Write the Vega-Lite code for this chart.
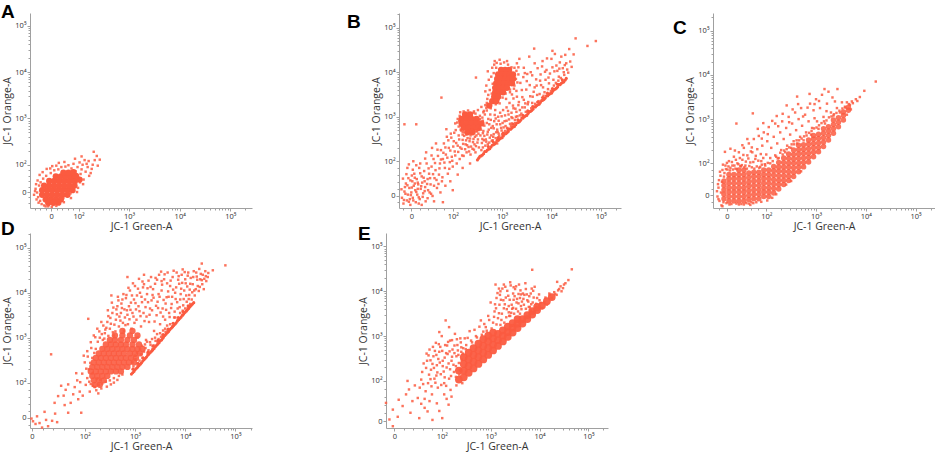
{
  "$schema": "https://vega.github.io/schema/vega-lite/v6.json",
  "background": "white",
  "padding": {"left": 1, "top": 3, "right": 0, "bottom": 0},
  "config": {
    "view": {"stroke": null},
    "title": {"anchor": "start", "frame": "group", "fontSize": 19, "font": "Liberation Sans", "fontWeight": "bold", "color": "#000000"},
    "axis": {"grid": false, "domainColor": "#a0a0a0", "tickColor": "#a0a0a0", "labelFont": "Open Sans", "labelFontSize": 7.5, "labelColor": "#333333", "titleFont": "Open Sans", "titleFontSize": 10.5, "titleFontWeight": "normal", "titleColor": "#333333", "labelPadding": 1, "titlePadding": 2, "labelOverlap": false, "labelFlush": false}
  },
  "datasets": {
    "A_core": [
      {"green":1.35,"orange":1.25},{"green":1.45,"orange":1.25},{"green":1.55,"orange":1.25},{"green":1.65,"orange":1.25},
      {"green":1.40,"orange":1.18},{"green":1.50,"orange":1.18},{"green":1.60,"orange":1.18},
      {"green":1.28,"orange":1.35},{"green":1.38,"orange":1.35},{"green":1.48,"orange":1.35},{"green":1.58,"orange":1.35},{"green":1.68,"orange":1.35},{"green":1.78,"orange":1.35},
      {"green":1.28,"orange":1.45},{"green":1.38,"orange":1.45},{"green":1.48,"orange":1.45},{"green":1.58,"orange":1.45},{"green":1.68,"orange":1.45},{"green":1.78,"orange":1.45},{"green":1.88,"orange":1.45},
      {"green":1.32,"orange":1.55},{"green":1.42,"orange":1.55},{"green":1.52,"orange":1.55},{"green":1.62,"orange":1.55},{"green":1.72,"orange":1.55},{"green":1.82,"orange":1.55},{"green":1.92,"orange":1.55},
      {"green":1.42,"orange":1.65},{"green":1.52,"orange":1.65},{"green":1.62,"orange":1.65},{"green":1.72,"orange":1.65},{"green":1.82,"orange":1.65},{"green":1.92,"orange":1.65},{"green":2.02,"orange":1.68},
      {"green":1.55,"orange":1.75},{"green":1.65,"orange":1.75},{"green":1.75,"orange":1.75},{"green":1.85,"orange":1.75},{"green":1.95,"orange":1.76},
      {"green":1.70,"orange":1.83},{"green":1.80,"orange":1.83},{"green":1.90,"orange":1.84}
    ],
    "A_dots": [
      {"green":1.18,"orange":1.40},{"green":1.20,"orange":1.30},{"green":1.22,"orange":1.55},{"green":1.24,"orange":1.22},{"green":1.25,"orange":1.62},{"green":1.27,"orange":1.15},{"green":1.30,"orange":1.70},{"green":1.32,"orange":1.12},{"green":1.36,"orange":1.76},{"green":1.40,"orange":1.10},
      {"green":1.42,"orange":1.16},{"green":1.45,"orange":1.82},{"green":1.50,"orange":1.13},{"green":1.52,"orange":1.88},{"green":1.58,"orange":1.17},{"green":1.60,"orange":1.90},{"green":1.63,"orange":1.22},{"green":1.66,"orange":1.95},{"green":1.70,"orange":1.28},{"green":1.74,"orange":1.96},
      {"green":1.76,"orange":1.33},{"green":1.80,"orange":1.99},{"green":1.84,"orange":1.38},{"green":1.86,"orange":1.92},{"green":1.88,"orange":1.45},{"green":1.90,"orange":2.02},{"green":1.92,"orange":1.55},{"green":1.94,"orange":1.86},{"green":1.96,"orange":1.62},{"green":1.98,"orange":1.95},
      {"green":2.00,"orange":1.72},{"green":2.02,"orange":2.05},{"green":2.04,"orange":1.80},{"green":2.06,"orange":1.90},{"green":2.08,"orange":2.00},{"green":2.10,"orange":1.68},{"green":2.12,"orange":2.10},{"green":2.14,"orange":1.85},{"green":2.18,"orange":1.95},{"green":2.20,"orange":2.08},
      {"green":2.24,"orange":1.82},{"green":2.28,"orange":2.00},{"green":2.32,"orange":2.10},{"green":2.38,"orange":1.98},{"green":2.30,"orange":2.28},{"green":1.15,"orange":1.48},{"green":1.16,"orange":1.58},{"green":1.21,"orange":1.18},{"green":1.35,"orange":1.10},{"green":1.47,"orange":1.09},
      {"green":1.99,"orange":1.50},{"green":2.03,"orange":1.62},{"green":1.89,"orange":1.73},{"green":1.12,"orange":1.35},{"green":1.44,"orange":1.92},{"green":1.56,"orange":1.98},
      {"green":1.19,"orange":1.66},{"green":1.23,"orange":1.78},{"green":1.29,"orange":1.84},{"green":1.37,"orange":1.91},{"green":1.48,"orange":1.97},{"green":1.61,"orange":2.04},{"green":1.72,"orange":2.06},{"green":1.93,"orange":2.13},{"green":2.06,"orange":2.18},{"green":2.16,"orange":2.02},
      {"green":2.26,"orange":1.91},{"green":2.21,"orange":1.76},{"green":2.09,"orange":1.58},{"green":1.97,"orange":1.41},{"green":1.85,"orange":1.28},{"green":1.71,"orange":1.19},{"green":1.56,"orange":1.11},{"green":1.41,"orange":1.13},{"green":1.17,"orange":1.25},{"green":1.14,"orange":1.43},
      {"green":2.42,"orange":2.11},{"green":2.36,"orange":2.19}
    ],
    "B_core": [
      {"green":2.98,"orange":4.05},{"green":3.06,"orange":4.05},{"green":3.14,"orange":4.05},
      {"green":2.92,"orange":3.95},{"green":3.00,"orange":3.95},{"green":3.08,"orange":3.95},{"green":3.16,"orange":3.95},{"green":3.22,"orange":3.95},
      {"green":2.90,"orange":3.85},{"green":2.98,"orange":3.85},{"green":3.06,"orange":3.85},{"green":3.14,"orange":3.85},{"green":3.22,"orange":3.85},
      {"green":2.88,"orange":3.75},{"green":2.96,"orange":3.75},{"green":3.04,"orange":3.75},{"green":3.12,"orange":3.75},{"green":3.20,"orange":3.75},
      {"green":2.86,"orange":3.65},{"green":2.94,"orange":3.65},{"green":3.02,"orange":3.65},{"green":3.10,"orange":3.65},
      {"green":2.86,"orange":3.55},{"green":2.94,"orange":3.55},{"green":3.02,"orange":3.55},
      {"green":2.84,"orange":3.45},{"green":2.92,"orange":3.45},
      {"green":2.80,"orange":3.35},{"green":2.88,"orange":3.35},
      {"green":2.74,"orange":3.25},
      {"green":2.25,"orange":3.05},{"green":2.35,"orange":3.05},
      {"green":2.18,"orange":2.95},{"green":2.28,"orange":2.95},{"green":2.38,"orange":2.95},{"green":2.48,"orange":2.95},
      {"green":2.18,"orange":2.85},{"green":2.28,"orange":2.85},{"green":2.38,"orange":2.85},{"green":2.48,"orange":2.85},{"green":2.58,"orange":2.85},
      {"green":2.22,"orange":2.75},{"green":2.32,"orange":2.75},{"green":2.42,"orange":2.75},{"green":2.52,"orange":2.75},
      {"green":2.30,"orange":2.65},{"green":2.40,"orange":2.65}
    ],
    "B_band": [
      {"green":2.50,"orange":2.03},{"green":2.55,"orange":2.11},{"green":2.60,"orange":2.14},{"green":2.65,"orange":2.22},{"green":2.70,"orange":2.25},{"green":2.75,"orange":2.28},{"green":2.80,"orange":2.36},{"green":2.85,"orange":2.39},{"green":2.90,"orange":2.47},{"green":2.95,"orange":2.50},
      {"green":3.00,"orange":2.53},{"green":3.05,"orange":2.61},{"green":3.10,"orange":2.64},{"green":3.15,"orange":2.72},{"green":3.20,"orange":2.75},{"green":3.25,"orange":2.78},{"green":3.30,"orange":2.86},{"green":3.35,"orange":2.89},{"green":3.40,"orange":2.97},{"green":3.45,"orange":3.00},
      {"green":3.50,"orange":3.03},{"green":3.55,"orange":3.11},{"green":3.60,"orange":3.14},{"green":3.65,"orange":3.22},{"green":3.70,"orange":3.25},{"green":3.75,"orange":3.28},{"green":3.80,"orange":3.36},{"green":3.85,"orange":3.39},{"green":3.90,"orange":3.47},{"green":3.95,"orange":3.50},
      {"green":4.00,"orange":3.53},{"green":4.05,"orange":3.61},{"green":4.10,"orange":3.64},{"green":4.15,"orange":3.72},{"green":4.20,"orange":3.75},{"green":4.25,"orange":3.78},{"green":4.30,"orange":3.86},
      {"green":2.525,"orange":2.07},{"green":2.575,"orange":2.12},{"green":2.625,"orange":2.17},{"green":2.675,"orange":2.22},{"green":2.725,"orange":2.27},{"green":2.775,"orange":2.32},{"green":2.825,"orange":2.37},{"green":2.875,"orange":2.42},{"green":2.925,"orange":2.47},{"green":2.975,"orange":2.52},
      {"green":3.025,"orange":2.57},{"green":3.075,"orange":2.62},{"green":3.125,"orange":2.67},{"green":3.175,"orange":2.72},{"green":3.225,"orange":2.77},{"green":3.275,"orange":2.82},{"green":3.325,"orange":2.87},{"green":3.375,"orange":2.92},{"green":3.425,"orange":2.97},{"green":3.475,"orange":3.02},
      {"green":3.525,"orange":3.07},{"green":3.575,"orange":3.12},{"green":3.625,"orange":3.17},{"green":3.675,"orange":3.22},{"green":3.725,"orange":3.27},{"green":3.775,"orange":3.32},{"green":3.825,"orange":3.37},{"green":3.875,"orange":3.42},{"green":3.925,"orange":3.47},{"green":3.975,"orange":3.52},
      {"green":4.025,"orange":3.57},{"green":4.075,"orange":3.62},{"green":4.125,"orange":3.67},{"green":4.175,"orange":3.72},{"green":4.225,"orange":3.77},{"green":4.275,"orange":3.82},
      {"green":2.72,"orange":2.33},{"green":2.82,"orange":2.43},{"green":2.92,"orange":2.53},{"green":3.02,"orange":2.63},{"green":3.12,"orange":2.73},{"green":3.22,"orange":2.83},{"green":3.32,"orange":2.93},{"green":3.42,"orange":3.03},
      {"green":3.52,"orange":3.13},{"green":3.62,"orange":3.23},{"green":3.72,"orange":3.33},{"green":3.82,"orange":3.43},{"green":3.92,"orange":3.53},{"green":4.02,"orange":3.63},{"green":4.12,"orange":3.73},{"green":4.22,"orange":3.83}
    ],
    "B_dots": [
      {"green":0.97,"orange":1.18},{"green":1.00,"orange":1.05},{"green":1.02,"orange":1.32},{"green":1.05,"orange":1.50},{"green":1.07,"orange":1.12},{"green":1.09,"orange":1.25},{"green":1.10,"orange":1.62},{"green":1.12,"orange":1.40},{"green":1.14,"orange":1.02},{"green":1.16,"orange":1.30},
      {"green":1.18,"orange":1.55},{"green":1.19,"orange":1.18},{"green":1.21,"orange":1.45},{"green":1.22,"orange":1.72},{"green":1.24,"orange":1.35},{"green":1.25,"orange":1.08},{"green":1.27,"orange":1.60},{"green":1.28,"orange":1.25},{"green":1.30,"orange":1.48},{"green":1.32,"orange":1.85},
      {"green":1.33,"orange":1.15},{"green":1.35,"orange":1.38},{"green":1.37,"orange":1.66},{"green":1.38,"orange":1.52},{"green":1.40,"orange":1.28},{"green":1.42,"orange":1.78},{"green":1.44,"orange":1.42},{"green":1.45,"orange":1.10},{"green":1.47,"orange":1.95},{"green":1.49,"orange":1.60},
      {"green":1.50,"orange":1.35},{"green":1.52,"orange":1.72},{"green":1.55,"orange":1.48},{"green":1.57,"orange":1.88},{"green":1.59,"orange":1.22},{"green":1.61,"orange":2.05},{"green":1.63,"orange":1.62},{"green":1.65,"orange":1.80},{"green":1.68,"orange":1.40},{"green":1.70,"orange":2.12},
      {"green":1.03,"orange":1.42},{"green":1.08,"orange":1.85},{"green":1.13,"orange":1.15},{"green":1.17,"orange":1.68},{"green":1.20,"orange":2.00},{"green":1.23,"orange":1.50},{"green":1.29,"orange":1.38},{"green":1.31,"orange":1.05},{"green":1.34,"orange":1.95},{"green":1.39,"orange":1.20},
      {"green":1.43,"orange":1.55},{"green":1.46,"orange":2.20},{"green":1.53,"orange":1.30},{"green":1.58,"orange":2.30},{"green":1.66,"orange":2.40},
      {"green":0.96,"orange":1.37},{"green":0.99,"orange":1.61},{"green":1.01,"orange":1.13},{"green":1.04,"orange":1.27},{"green":1.06,"orange":1.71},{"green":1.08,"orange":1.46},{"green":1.11,"orange":1.09},{"green":1.11,"orange":1.93},{"green":1.14,"orange":1.57},{"green":1.15,"orange":1.24},
      {"green":1.17,"orange":1.41},{"green":1.19,"orange":1.81},{"green":1.20,"orange":1.12},{"green":1.23,"orange":1.63},{"green":1.26,"orange":1.31},{"green":1.26,"orange":1.91},{"green":1.29,"orange":1.52},{"green":1.31,"orange":1.19},{"green":1.34,"orange":1.73},{"green":1.36,"orange":1.44},
      {"green":1.37,"orange":1.02},{"green":1.41,"orange":1.63},{"green":1.43,"orange":1.33},{"green":1.44,"orange":2.06},{"green":1.48,"orange":1.49},{"green":1.49,"orange":1.17},{"green":1.51,"orange":1.84},{"green":1.54,"orange":1.62},{"green":1.56,"orange":1.27},{"green":1.57,"orange":2.13},
      {"green":1.60,"orange":1.71},{"green":1.62,"orange":1.45},{"green":1.64,"orange":1.96},{"green":1.67,"orange":1.58},{"green":1.69,"orange":2.26},{"green":1.71,"orange":1.49},{"green":1.73,"orange":1.84},{"green":1.76,"orange":2.04},{"green":1.79,"orange":1.64},{"green":1.81,"orange":2.19},
      {"green":1.72,"orange":1.70},{"green":1.74,"orange":1.95},{"green":1.76,"orange":2.25},{"green":1.78,"orange":1.55},{"green":1.80,"orange":2.05},{"green":1.82,"orange":2.40},{"green":1.84,"orange":1.85},{"green":1.86,"orange":2.15},{"green":1.88,"orange":2.55},{"green":1.90,"orange":1.72},
      {"green":1.92,"orange":2.30},{"green":1.94,"orange":1.98},{"green":1.96,"orange":2.62},{"green":1.98,"orange":2.10},{"green":2.00,"orange":1.88},{"green":2.02,"orange":2.45},{"green":2.04,"orange":2.22},{"green":2.06,"orange":2.70},{"green":2.08,"orange":1.95},{"green":2.10,"orange":2.35},
      {"green":2.12,"orange":2.58},{"green":2.14,"orange":2.05},{"green":2.16,"orange":2.80},{"green":2.18,"orange":2.28},{"green":2.20,"orange":2.48},{"green":2.22,"orange":2.12},{"green":2.24,"orange":2.65},{"green":2.26,"orange":2.38},{"green":2.28,"orange":2.20},{"green":2.30,"orange":2.52},
      {"green":2.32,"orange":2.32},{"green":2.34,"orange":2.45},{"green":2.36,"orange":2.15},{"green":2.38,"orange":2.62},{"green":2.40,"orange":2.28},{"green":2.42,"orange":2.50},{"green":2.44,"orange":2.38},{"green":2.46,"orange":2.20},{"green":2.48,"orange":2.58},{"green":2.50,"orange":2.42},
      {"green":1.83,"orange":1.97},{"green":1.85,"orange":2.31},{"green":1.87,"orange":2.72},{"green":1.89,"orange":2.08},{"green":1.91,"orange":2.47},{"green":1.93,"orange":1.83},{"green":1.95,"orange":2.24},{"green":1.97,"orange":2.53},{"green":1.99,"orange":2.01},{"green":2.01,"orange":2.33},
      {"green":2.03,"orange":2.64},{"green":2.05,"orange":2.13},{"green":2.07,"orange":2.41},{"green":2.09,"orange":2.87},{"green":2.11,"orange":2.21},{"green":2.13,"orange":2.49},{"green":2.15,"orange":2.31},{"green":2.17,"orange":2.69},{"green":2.19,"orange":2.13},{"green":2.21,"orange":2.39},
      {"green":2.23,"orange":2.57},{"green":2.25,"orange":2.27},{"green":2.27,"orange":2.47},{"green":2.29,"orange":2.36},{"green":2.31,"orange":2.63},{"green":2.33,"orange":2.22},{"green":2.35,"orange":2.51},{"green":2.37,"orange":2.33},{"green":2.39,"orange":2.71},{"green":2.41,"orange":2.43},
      {"green":2.43,"orange":2.26},{"green":2.45,"orange":2.55},{"green":2.47,"orange":2.34},{"green":2.49,"orange":2.67},{"green":2.51,"orange":2.49},{"green":2.53,"orange":2.31},{"green":2.56,"orange":2.58},{"green":2.59,"orange":2.41},{"green":2.61,"orange":2.63},{"green":2.63,"orange":2.47},
      {"green":2.52,"orange":2.70},{"green":2.55,"orange":2.95},{"green":2.58,"orange":2.25},{"green":2.60,"orange":2.50},{"green":2.62,"orange":3.10},{"green":2.64,"orange":2.80},{"green":2.66,"orange":2.35},{"green":2.68,"orange":3.20},{"green":2.70,"orange":2.60},{"green":2.72,"orange":2.95},
      {"green":2.74,"orange":2.42},{"green":2.76,"orange":3.05},{"green":2.78,"orange":2.75},{"green":2.80,"orange":3.35},{"green":2.82,"orange":2.55},{"green":2.84,"orange":2.90},{"green":2.86,"orange":3.15},{"green":2.88,"orange":2.65},{"green":2.90,"orange":2.40},{"green":2.92,"orange":3.00},
      {"green":2.95,"orange":3.30},{"green":2.98,"orange":2.75},{"green":3.00,"orange":2.60},{"green":3.02,"orange":3.15},{"green":3.05,"orange":2.90},{"green":3.08,"orange":3.40},{"green":3.10,"orange":2.75},{"green":3.13,"orange":3.05},{"green":3.16,"orange":3.55},{"green":3.20,"orange":2.85},
      {"green":3.22,"orange":3.25},{"green":3.25,"orange":3.70},{"green":3.28,"orange":3.00},{"green":3.30,"orange":3.45},{"green":3.33,"orange":3.95},{"green":3.36,"orange":3.15},{"green":3.40,"orange":3.60},{"green":3.44,"orange":4.10},{"green":3.47,"orange":3.30},{"green":3.50,"orange":3.80},
      {"green":3.54,"orange":3.10},{"green":3.58,"orange":4.00},{"green":3.62,"orange":3.45},{"green":3.66,"orange":4.20},{"green":3.70,"orange":3.70},{"green":3.74,"orange":3.35},{"green":3.78,"orange":3.95},{"green":3.82,"orange":4.25},{"green":3.86,"orange":3.55},{"green":3.90,"orange":4.05},
      {"green":3.95,"orange":3.75},{"green":4.00,"orange":4.30},{"green":4.05,"orange":3.70},{"green":4.10,"orange":4.15},{"green":4.15,"orange":3.90},{"green":4.20,"orange":4.35},{"green":4.25,"orange":4.00},{"green":4.30,"orange":4.20},{"green":3.35,"orange":4.30},{"green":3.55,"orange":4.35},
      {"green":2.67,"orange":2.49},{"green":2.69,"orange":2.86},{"green":2.71,"orange":2.38},{"green":2.73,"orange":2.71},{"green":2.75,"orange":2.53},{"green":2.77,"orange":2.93},{"green":2.79,"orange":2.46},{"green":2.81,"orange":2.79},{"green":2.83,"orange":2.61},{"green":2.85,"orange":3.04},
      {"green":2.87,"orange":2.52},{"green":2.89,"orange":2.83},{"green":2.91,"orange":2.66},{"green":2.93,"orange":2.91},{"green":2.94,"orange":2.57},{"green":2.96,"orange":3.09},{"green":2.99,"orange":2.69},{"green":3.01,"orange":2.86},{"green":3.03,"orange":2.63},{"green":3.06,"orange":3.03},
      {"green":3.07,"orange":2.79},{"green":3.09,"orange":3.21},{"green":3.11,"orange":2.68},{"green":3.14,"orange":2.94},{"green":3.15,"orange":3.31},{"green":3.18,"orange":2.79},{"green":3.19,"orange":3.09},{"green":3.21,"orange":2.97},{"green":3.23,"orange":3.41},{"green":3.26,"orange":2.86},
      {"green":3.27,"orange":3.18},{"green":3.29,"orange":3.58},{"green":3.31,"orange":3.01},{"green":3.34,"orange":3.33},{"green":3.37,"orange":3.76},{"green":3.39,"orange":3.07},{"green":3.41,"orange":3.44},{"green":3.43,"orange":3.89},{"green":3.46,"orange":3.21},{"green":3.49,"orange":3.61},
      {"green":3.51,"orange":3.96},{"green":3.53,"orange":3.33},{"green":3.56,"orange":3.71},{"green":3.59,"orange":3.19},{"green":3.61,"orange":3.93},{"green":3.64,"orange":3.56},{"green":3.67,"orange":3.29},{"green":3.69,"orange":3.84},{"green":3.72,"orange":4.09},{"green":3.76,"orange":3.51},
      {"green":3.79,"orange":3.71},{"green":3.81,"orange":4.13},{"green":3.84,"orange":3.47},{"green":3.88,"orange":3.83},{"green":3.91,"orange":4.31},{"green":3.93,"orange":3.62},{"green":3.97,"orange":3.97},{"green":3.99,"orange":3.58},{"green":4.02,"orange":4.11},{"green":4.04,"orange":3.83},
      {"green":4.07,"orange":4.41},{"green":4.09,"orange":3.76},{"green":4.12,"orange":4.03},{"green":4.14,"orange":3.81},{"green":4.17,"orange":4.22},{"green":4.19,"orange":3.87},{"green":4.23,"orange":4.09},{"green":4.26,"orange":3.94},{"green":4.28,"orange":4.39},{"green":4.32,"orange":4.06},
      {"green":4.34,"orange":3.99},{"green":4.38,"orange":4.24},{"green":4.41,"orange":4.12},{"green":4.36,"orange":4.52},{"green":4.02,"orange":4.48},
      {"green":2.61,"orange":2.31},{"green":2.64,"orange":2.57},{"green":2.68,"orange":2.44},{"green":2.71,"orange":2.66},{"green":2.74,"orange":2.83},{"green":2.78,"orange":2.58},{"green":2.81,"orange":2.47},{"green":2.83,"orange":2.74},{"green":2.87,"orange":2.96},{"green":2.90,"orange":2.71},
      {"green":2.93,"orange":2.62},{"green":2.96,"orange":2.83},{"green":2.99,"orange":3.01},{"green":3.03,"orange":2.76},{"green":3.06,"orange":2.68},{"green":3.09,"orange":2.91},{"green":3.12,"orange":3.13},{"green":3.16,"orange":2.84},{"green":3.19,"orange":2.99},{"green":3.23,"orange":3.19},
      {"green":3.26,"orange":2.93},{"green":3.29,"orange":3.11},{"green":3.33,"orange":3.26},{"green":3.36,"orange":3.03},{"green":3.41,"orange":3.21},{"green":3.44,"orange":3.38},{"green":3.48,"orange":3.11},{"green":3.52,"orange":3.28},{"green":3.57,"orange":3.46},{"green":3.61,"orange":3.31},
      {"green":3.66,"orange":3.66},{"green":3.71,"orange":3.49},{"green":3.77,"orange":3.81},{"green":3.83,"orange":3.66},{"green":3.87,"orange":4.01},{"green":3.94,"orange":3.88},{"green":4.06,"orange":4.02},{"green":4.16,"orange":4.08},{"green":4.27,"orange":4.16},{"green":3.46,"orange":3.98},
      {"green":2.78,"orange":3.90},{"green":2.80,"orange":4.10},{"green":2.85,"orange":4.25},{"green":2.95,"orange":4.28},{"green":3.10,"orange":4.25},{"green":3.25,"orange":4.10},{"green":3.28,"orange":3.85},{"green":3.30,"orange":4.20},{"green":2.75,"orange":3.60},{"green":3.20,"orange":3.50},
      {"green":2.79,"orange":3.52},{"green":2.81,"orange":3.74},{"green":2.83,"orange":3.98},{"green":2.84,"orange":4.17},{"green":2.87,"orange":3.28},{"green":2.89,"orange":4.21},{"green":2.93,"orange":3.39},{"green":2.97,"orange":4.19},{"green":3.01,"orange":3.43},{"green":3.04,"orange":4.22},
      {"green":3.07,"orange":3.52},{"green":3.12,"orange":4.17},{"green":3.16,"orange":3.61},{"green":3.19,"orange":4.11},{"green":3.24,"orange":3.63},{"green":3.26,"orange":3.93},{"green":3.29,"orange":4.03},{"green":3.31,"orange":3.77},{"green":2.72,"orange":3.49},{"green":2.69,"orange":3.31},
      {"green":2.77,"orange":3.19},{"green":2.66,"orange":3.57},{"green":2.73,"orange":3.83},{"green":2.71,"orange":4.02},{"green":3.33,"orange":4.11},
      {"green":2.70,"orange":3.40},{"green":2.68,"orange":3.70},{"green":2.10,"orange":2.95},{"green":2.15,"orange":3.10},{"green":2.05,"orange":2.85},{"green":2.60,"orange":2.98},{"green":2.65,"orange":3.05},{"green":2.55,"orange":2.75},{"green":2.20,"orange":2.60},{"green":2.62,"orange":2.68},
      {"green":2.46,"orange":3.07},{"green":2.51,"orange":3.15},{"green":2.55,"orange":3.02},{"green":2.58,"orange":3.22},{"green":2.63,"orange":3.13},{"green":2.66,"orange":3.26},{"green":2.53,"orange":2.92},{"green":2.43,"orange":3.12},{"green":2.61,"orange":2.91},{"green":2.69,"orange":3.14},
      {"green":2.12,"orange":2.78},{"green":2.14,"orange":3.02},{"green":2.16,"orange":2.71},{"green":2.22,"orange":3.12},{"green":2.31,"orange":3.14},{"green":2.42,"orange":3.09},{"green":2.52,"orange":2.62},{"green":2.57,"orange":2.71},{"green":2.47,"orange":2.68},{"green":2.20,"orange":2.66},
      {"green":2.13,"orange":2.90},{"green":2.36,"orange":2.58},{"green":2.27,"orange":2.60},
      {"green":1.77,"orange":3.43},{"green":1.26,"orange":2.83},{"green":2.47,"orange":3.88},{"green":2.88,"orange":4.10},{"green":4.49,"orange":4.76},{"green":4.73,"orange":4.59},{"green":4.90,"orange":4.70},{"green":3.65,"orange":4.53},{"green":1.02,"orange":2.83},{"green":4.45,"orange":4.40},
      {"green":2.20,"orange":1.85},{"green":2.35,"orange":1.95},{"green":2.10,"orange":1.70},{"green":1.95,"orange":1.55},{"green":1.85,"orange":1.45},{"green":1.75,"orange":1.30},{"green":1.62,"orange":1.10},{"green":1.80,"orange":1.08},{"green":2.00,"orange":1.35}
    ],
    "C_core": [
      {"green":1.15,"orange":1.20},{"green":1.15,"orange":1.30},{"green":1.15,"orange":1.40},{"green":1.15,"orange":1.50},{"green":1.15,"orange":1.60},
      {"green":1.25,"orange":1.15},{"green":1.25,"orange":1.25},{"green":1.25,"orange":1.35},{"green":1.25,"orange":1.45},{"green":1.25,"orange":1.55},{"green":1.25,"orange":1.65},{"green":1.25,"orange":1.75},
      {"green":1.35,"orange":1.15},{"green":1.35,"orange":1.25},{"green":1.35,"orange":1.35},{"green":1.35,"orange":1.45},{"green":1.35,"orange":1.55},{"green":1.35,"orange":1.65},{"green":1.35,"orange":1.75},
      {"green":1.45,"orange":1.15},{"green":1.45,"orange":1.25},{"green":1.45,"orange":1.35},{"green":1.45,"orange":1.45},{"green":1.45,"orange":1.55},{"green":1.45,"orange":1.65},{"green":1.45,"orange":1.75},{"green":1.45,"orange":1.85},
      {"green":1.55,"orange":1.15},{"green":1.55,"orange":1.25},{"green":1.55,"orange":1.35},{"green":1.55,"orange":1.45},{"green":1.55,"orange":1.55},{"green":1.55,"orange":1.65},{"green":1.55,"orange":1.75},{"green":1.55,"orange":1.85},
      {"green":1.65,"orange":1.18},{"green":1.65,"orange":1.28},{"green":1.65,"orange":1.38},{"green":1.65,"orange":1.48},{"green":1.65,"orange":1.58},{"green":1.65,"orange":1.68},{"green":1.65,"orange":1.78},
      {"green":1.75,"orange":1.20},{"green":1.75,"orange":1.30},{"green":1.75,"orange":1.40},{"green":1.75,"orange":1.50},{"green":1.75,"orange":1.60},{"green":1.75,"orange":1.70},{"green":1.75,"orange":1.80},
      {"green":1.85,"orange":1.20},{"green":1.85,"orange":1.30},{"green":1.85,"orange":1.40},{"green":1.85,"orange":1.50},{"green":1.85,"orange":1.60},{"green":1.85,"orange":1.70},{"green":1.85,"orange":1.80},
      {"green":1.95,"orange":1.25},{"green":1.95,"orange":1.35},{"green":1.95,"orange":1.45},{"green":1.95,"orange":1.55},{"green":1.95,"orange":1.65},{"green":1.95,"orange":1.75},{"green":1.95,"orange":1.85},
      {"green":2.05,"orange":1.25},{"green":2.05,"orange":1.35},{"green":2.05,"orange":1.45},{"green":2.05,"orange":1.55},{"green":2.05,"orange":1.65},{"green":2.05,"orange":1.75},{"green":2.05,"orange":1.85},
      {"green":2.15,"orange":1.33},{"green":2.15,"orange":1.43},{"green":2.15,"orange":1.53},{"green":2.15,"orange":1.63},{"green":2.15,"orange":1.73},{"green":2.15,"orange":1.83},{"green":2.15,"orange":1.93},
      {"green":2.25,"orange":1.42},{"green":2.25,"orange":1.52},{"green":2.25,"orange":1.62},{"green":2.25,"orange":1.72},{"green":2.25,"orange":1.82},{"green":2.25,"orange":1.92},{"green":2.25,"orange":2.02},
      {"green":2.35,"orange":1.52},{"green":2.35,"orange":1.62},{"green":2.35,"orange":1.72},{"green":2.35,"orange":1.82},{"green":2.35,"orange":1.92},{"green":2.35,"orange":2.02},{"green":2.35,"orange":2.12},
      {"green":2.45,"orange":1.61},{"green":2.45,"orange":1.71},{"green":2.45,"orange":1.81},{"green":2.45,"orange":1.91},{"green":2.45,"orange":2.01},{"green":2.45,"orange":2.11},{"green":2.45,"orange":2.21},
      {"green":2.55,"orange":1.70},{"green":2.55,"orange":1.80},{"green":2.55,"orange":1.90},{"green":2.55,"orange":2.00},{"green":2.55,"orange":2.10},{"green":2.55,"orange":2.20},{"green":2.55,"orange":2.30},
      {"green":2.65,"orange":1.81},{"green":2.65,"orange":1.91},{"green":2.65,"orange":2.01},{"green":2.65,"orange":2.11},{"green":2.65,"orange":2.21},{"green":2.65,"orange":2.31},{"green":2.65,"orange":2.41},
      {"green":2.75,"orange":1.92},{"green":2.75,"orange":2.02},{"green":2.75,"orange":2.12},{"green":2.75,"orange":2.22},{"green":2.75,"orange":2.32},{"green":2.75,"orange":2.42},
      {"green":2.85,"orange":2.03},{"green":2.85,"orange":2.13},{"green":2.85,"orange":2.23},{"green":2.85,"orange":2.33},{"green":2.85,"orange":2.43},{"green":2.85,"orange":2.53},
      {"green":2.95,"orange":2.15},{"green":2.95,"orange":2.25},{"green":2.95,"orange":2.35},{"green":2.95,"orange":2.45},{"green":2.95,"orange":2.55},{"green":2.95,"orange":2.63},
      {"green":3.05,"orange":2.26},{"green":3.05,"orange":2.36},{"green":3.05,"orange":2.46},{"green":3.05,"orange":2.56},{"green":3.05,"orange":2.66},
      {"green":3.15,"orange":2.38},{"green":3.15,"orange":2.48},{"green":3.15,"orange":2.58},{"green":3.15,"orange":2.68},{"green":3.15,"orange":2.78},
      {"green":3.25,"orange":2.53},{"green":3.25,"orange":2.63},{"green":3.25,"orange":2.73},{"green":3.25,"orange":2.83},
      {"green":3.35,"orange":2.68},{"green":3.35,"orange":2.78},{"green":3.35,"orange":2.88},{"green":3.35,"orange":2.98},
      {"green":3.45,"orange":2.83},{"green":3.45,"orange":2.93},{"green":3.45,"orange":3.03},
      {"green":3.55,"orange":2.98},{"green":3.55,"orange":3.08},{"green":3.55,"orange":3.16},
      {"green":3.65,"orange":3.20},{"green":3.65,"orange":3.27}
    ],
    "C_dots": [
      {"green":1.02,"orange":1.25},{"green":1.04,"orange":1.45},{"green":1.06,"orange":1.15},{"green":1.05,"orange":1.62},{"green":1.08,"orange":1.72},{"green":1.10,"orange":1.05},{"green":1.12,"orange":1.85},{"green":1.15,"orange":1.70},{"green":1.18,"orange":1.95},{"green":1.20,"orange":1.10},
      {"green":1.22,"orange":1.86},{"green":1.25,"orange":2.05},{"green":1.28,"orange":1.90},{"green":1.30,"orange":1.08},{"green":1.32,"orange":1.95},{"green":1.35,"orange":2.15},{"green":1.38,"orange":1.88},{"green":1.40,"orange":1.09},{"green":1.42,"orange":2.00},{"green":1.45,"orange":2.25},
      {"green":1.48,"orange":1.94},{"green":1.50,"orange":1.08},{"green":1.52,"orange":2.08},{"green":1.55,"orange":2.35},{"green":1.58,"orange":1.95},{"green":1.60,"orange":1.10},{"green":1.62,"orange":2.18},{"green":1.65,"orange":2.45},{"green":1.68,"orange":2.02},{"green":1.70,"orange":1.12},
      {"green":1.72,"orange":2.25},{"green":1.75,"orange":2.55},{"green":1.78,"orange":2.10},{"green":1.80,"orange":1.12},{"green":1.82,"orange":2.32},{"green":1.85,"orange":2.62},{"green":1.88,"orange":1.92},{"green":1.90,"orange":2.05},{"green":1.92,"orange":2.40},{"green":1.95,"orange":2.70},
      {"green":1.98,"orange":1.95},{"green":2.00,"orange":2.20},{"green":2.02,"orange":2.50},{"green":2.05,"orange":2.82},{"green":2.08,"orange":2.00},{"green":2.10,"orange":2.35},{"green":2.12,"orange":1.22},{"green":2.15,"orange":2.60},{"green":2.18,"orange":2.90},{"green":2.20,"orange":2.15},
      {"green":2.22,"orange":2.45},{"green":2.25,"orange":2.12},{"green":2.28,"orange":2.70},{"green":2.30,"orange":2.30},{"green":2.32,"orange":2.95},{"green":2.35,"orange":2.55},{"green":2.38,"orange":2.25},{"green":2.40,"orange":2.80},{"green":2.42,"orange":2.40},{"green":2.45,"orange":3.05},
      {"green":2.48,"orange":2.65},{"green":2.50,"orange":2.35},{"green":2.52,"orange":2.90},{"green":2.55,"orange":2.50},{"green":2.58,"orange":3.15},{"green":2.60,"orange":2.75},{"green":2.62,"orange":2.45},{"green":2.65,"orange":3.00},{"green":2.68,"orange":2.60},{"green":2.70,"orange":3.25},
      {"green":2.72,"orange":2.85},{"green":2.75,"orange":2.52},{"green":2.78,"orange":3.10},{"green":2.80,"orange":2.70},{"green":2.85,"orange":2.95},{"green":2.88,"orange":3.35},{"green":2.90,"orange":2.65},{"green":2.92,"orange":2.80},{"green":2.95,"orange":3.20},{"green":3.00,"orange":3.45},
      {"green":3.02,"orange":2.95},{"green":3.05,"orange":2.78},{"green":3.08,"orange":3.25},{"green":3.12,"orange":3.55},{"green":3.15,"orange":3.05},{"green":3.18,"orange":2.90},{"green":3.22,"orange":3.35},{"green":3.25,"orange":3.62},{"green":3.30,"orange":3.15},{"green":3.35,"orange":3.08},
      {"green":3.38,"orange":3.40},{"green":3.42,"orange":3.25},{"green":3.48,"orange":3.15},{"green":3.52,"orange":3.38},{"green":3.58,"orange":3.28},{"green":3.62,"orange":3.38},{"green":3.68,"orange":3.32},{"green":3.72,"orange":3.40},{"green":3.80,"orange":3.45},{"green":3.88,"orange":3.50},
      {"green":1.01,"orange":1.37},{"green":1.03,"orange":1.53},{"green":1.04,"orange":1.19},{"green":1.07,"orange":1.81},{"green":1.09,"orange":1.34},{"green":1.11,"orange":1.58},{"green":1.13,"orange":1.97},{"green":1.14,"orange":1.12},{"green":1.16,"orange":1.78},{"green":1.19,"orange":1.87},
      {"green":1.21,"orange":2.01},{"green":1.24,"orange":1.93},{"green":1.26,"orange":1.07},{"green":1.27,"orange":1.84},{"green":1.31,"orange":2.03},{"green":1.33,"orange":1.86},{"green":1.36,"orange":1.95},{"green":1.39,"orange":2.08},{"green":1.41,"orange":1.87},{"green":1.44,"orange":1.98},
      {"green":1.47,"orange":2.12},{"green":1.49,"orange":1.93},{"green":1.51,"orange":1.96},{"green":1.54,"orange":2.19},{"green":1.56,"orange":1.91},{"green":1.59,"orange":2.04},{"green":1.61,"orange":1.88},{"green":1.64,"orange":2.11},{"green":1.66,"orange":1.94},{"green":1.69,"orange":2.27},
      {"green":1.71,"orange":1.91},{"green":1.74,"orange":2.03},{"green":1.76,"orange":1.88},{"green":1.79,"orange":2.17},{"green":1.81,"orange":1.93},{"green":1.84,"orange":2.06},{"green":1.86,"orange":1.90},{"green":1.89,"orange":2.21},{"green":1.91,"orange":1.97},{"green":1.94,"orange":2.12},
      {"green":1.55,"orange":1.07},{"green":1.65,"orange":1.09},{"green":1.74,"orange":1.10},{"green":1.68,"orange":1.06},{"green":1.12,"orange":1.03},{"green":1.45,"orange":1.07},{"green":1.90,"orange":1.13},{"green":2.02,"orange":1.16},{"green":2.20,"orange":1.30},{"green":2.40,"orange":1.52},
      {"green":1.97,"orange":1.98},{"green":2.03,"orange":2.01},{"green":2.08,"orange":2.12},{"green":2.13,"orange":2.05},{"green":2.18,"orange":2.18},{"green":2.23,"orange":2.11},{"green":2.28,"orange":2.24},{"green":2.33,"orange":2.20},{"green":2.36,"orange":2.29},{"green":2.41,"orange":2.32},
      {"green":2.46,"orange":2.36},{"green":2.51,"orange":2.43},{"green":2.56,"orange":2.43},{"green":2.61,"orange":2.52},{"green":2.66,"orange":2.52},{"green":2.71,"orange":2.56},{"green":2.76,"orange":2.61},{"green":2.81,"orange":2.63},{"green":2.86,"orange":2.69},{"green":2.91,"orange":2.73},
      {"green":2.96,"orange":2.79},{"green":3.01,"orange":2.81},{"green":3.06,"orange":2.86},{"green":3.11,"orange":2.91},{"green":3.16,"orange":2.95},{"green":3.21,"orange":2.97},{"green":3.26,"orange":3.04},{"green":3.31,"orange":3.06},{"green":3.36,"orange":3.11},{"green":3.41,"orange":3.14},
      {"green":3.47,"orange":3.19},{"green":3.53,"orange":3.24},{"green":3.59,"orange":3.26},{"green":3.66,"orange":3.34},{"green":3.74,"orange":3.36},{"green":3.83,"orange":3.41},{"green":3.70,"orange":3.22},{"green":3.62,"orange":3.10},{"green":2.50,"orange":1.60},{"green":2.70,"orange":1.82},
      {"green":1.62,"orange":2.55},{"green":1.71,"orange":2.36},{"green":1.83,"orange":2.78},{"green":1.94,"orange":2.91},{"green":2.03,"orange":2.66},{"green":2.12,"orange":2.96},{"green":2.24,"orange":2.84},{"green":2.33,"orange":3.12},{"green":2.46,"orange":2.93},{"green":2.53,"orange":3.22},
      {"green":2.64,"orange":3.34},{"green":2.74,"orange":3.06},{"green":2.83,"orange":3.26},{"green":2.97,"orange":3.02},{"green":3.06,"orange":3.41},{"green":3.21,"orange":3.18},{"green":3.33,"orange":3.49},{"green":2.41,"orange":3.31},{"green":2.21,"orange":3.07},{"green":1.91,"orange":2.56},
      {"green":1.52,"orange":2.41},{"green":1.37,"orange":2.29},{"green":1.28,"orange":2.33},{"green":2.62,"orange":3.51},{"green":2.87,"orange":3.57},
      {"green":4.20,"orange":3.85},{"green":3.97,"orange":3.64},{"green":1.73,"orange":3.13},{"green":1.40,"orange":2.90},{"green":1.17,"orange":2.26},{"green":3.17,"orange":3.68},{"green":3.43,"orange":3.68},{"green":2.97,"orange":3.34}
    ],
    "D_core": [
      {"green":2.20,"orange":1.95},{"green":2.30,"orange":1.95},
      {"green":2.18,"orange":2.05},{"green":2.28,"orange":2.05},{"green":2.38,"orange":2.05},
      {"green":2.15,"orange":2.15},{"green":2.25,"orange":2.15},{"green":2.35,"orange":2.15},{"green":2.45,"orange":2.15},
      {"green":2.12,"orange":2.25},{"green":2.22,"orange":2.25},{"green":2.32,"orange":2.25},{"green":2.42,"orange":2.25},{"green":2.52,"orange":2.25},{"green":2.62,"orange":2.25},{"green":2.72,"orange":2.25},
      {"green":2.15,"orange":2.35},{"green":2.25,"orange":2.35},{"green":2.35,"orange":2.35},{"green":2.45,"orange":2.35},{"green":2.55,"orange":2.35},{"green":2.65,"orange":2.35},{"green":2.75,"orange":2.35},{"green":2.85,"orange":2.35},
      {"green":2.18,"orange":2.45},{"green":2.28,"orange":2.45},{"green":2.38,"orange":2.45},{"green":2.48,"orange":2.45},{"green":2.58,"orange":2.45},{"green":2.68,"orange":2.45},{"green":2.78,"orange":2.45},{"green":2.88,"orange":2.45},{"green":2.98,"orange":2.45},
      {"green":2.22,"orange":2.55},{"green":2.32,"orange":2.55},{"green":2.42,"orange":2.55},{"green":2.52,"orange":2.55},{"green":2.62,"orange":2.55},{"green":2.72,"orange":2.55},{"green":2.82,"orange":2.55},{"green":2.92,"orange":2.55},{"green":3.02,"orange":2.55},
      {"green":2.28,"orange":2.65},{"green":2.38,"orange":2.65},{"green":2.48,"orange":2.65},{"green":2.58,"orange":2.65},{"green":2.68,"orange":2.65},{"green":2.78,"orange":2.65},{"green":2.90,"orange":2.65},{"green":3.00,"orange":2.65},{"green":3.10,"orange":2.65},
      {"green":2.35,"orange":2.75},{"green":2.45,"orange":2.75},{"green":2.55,"orange":2.75},{"green":2.65,"orange":2.75},{"green":2.75,"orange":2.75},{"green":2.85,"orange":2.75},{"green":2.95,"orange":2.75},{"green":3.05,"orange":2.75},{"green":3.15,"orange":2.75},
      {"green":2.42,"orange":2.85},{"green":2.52,"orange":2.85},{"green":2.62,"orange":2.85},{"green":2.72,"orange":2.85},{"green":2.82,"orange":2.85},{"green":2.95,"orange":2.85},{"green":3.08,"orange":2.85},
      {"green":2.50,"orange":2.95},{"green":2.60,"orange":2.95},{"green":2.72,"orange":2.95},{"green":2.85,"orange":2.95},{"green":2.98,"orange":2.95},
      {"green":2.60,"orange":3.05},{"green":2.75,"orange":3.05},{"green":2.90,"orange":3.05},{"green":3.05,"orange":3.05},
      {"green":2.75,"orange":3.15},{"green":2.95,"orange":3.15}
    ],
    "D_band": [
      {"green":2.93,"orange":2.19},{"green":2.98,"orange":2.25},{"green":3.03,"orange":2.32},{"green":3.08,"orange":2.38},{"green":3.13,"orange":2.44},{"green":3.18,"orange":2.51},{"green":3.23,"orange":2.57},{"green":3.28,"orange":2.64},{"green":3.33,"orange":2.70},{"green":3.38,"orange":2.76},
      {"green":3.43,"orange":2.83},{"green":3.48,"orange":2.89},{"green":3.53,"orange":2.95},{"green":3.57,"orange":3.02},{"green":3.62,"orange":3.08},{"green":3.67,"orange":3.14},{"green":3.72,"orange":3.21},{"green":3.77,"orange":3.27},{"green":3.82,"orange":3.33},{"green":3.87,"orange":3.40},
      {"green":3.92,"orange":3.46},{"green":3.97,"orange":3.53},{"green":4.02,"orange":3.59},{"green":4.07,"orange":3.65},{"green":4.12,"orange":3.72},{"green":4.17,"orange":3.78},
      {"green":2.955,"orange":2.22},{"green":3.005,"orange":2.29},{"green":3.055,"orange":2.35},{"green":3.105,"orange":2.41},{"green":3.155,"orange":2.48},{"green":3.205,"orange":2.54},{"green":3.255,"orange":2.61},{"green":3.305,"orange":2.67},{"green":3.355,"orange":2.73},{"green":3.405,"orange":2.80},
      {"green":3.455,"orange":2.86},{"green":3.505,"orange":2.93},{"green":3.555,"orange":2.99},{"green":3.595,"orange":3.05},{"green":3.645,"orange":3.11},{"green":3.695,"orange":3.18},{"green":3.745,"orange":3.24},{"green":3.795,"orange":3.30},{"green":3.845,"orange":3.37},{"green":3.895,"orange":3.43},
      {"green":3.945,"orange":3.50},{"green":3.995,"orange":3.56},{"green":4.045,"orange":3.62},{"green":4.095,"orange":3.69},{"green":4.145,"orange":3.75},
      {"green":2.96,"orange":2.30},{"green":3.06,"orange":2.43},{"green":3.16,"orange":2.55},{"green":3.26,"orange":2.68},{"green":3.36,"orange":2.81},{"green":3.46,"orange":2.94},{"green":3.56,"orange":3.07},{"green":3.66,"orange":3.19},{"green":3.76,"orange":3.32},{"green":3.86,"orange":3.45},
      {"green":3.96,"orange":3.58},{"green":4.06,"orange":3.71}
    ],
    "D_dots": [
      {"green":2.40,"orange":3.10},{"green":2.45,"orange":3.35},{"green":2.50,"orange":3.20},{"green":2.55,"orange":3.55},{"green":2.58,"orange":3.05},{"green":2.62,"orange":3.40},{"green":2.65,"orange":3.70},{"green":2.68,"orange":3.25},{"green":2.72,"orange":3.55},{"green":2.75,"orange":3.85},
      {"green":2.78,"orange":3.15},{"green":2.80,"orange":3.45},{"green":2.83,"orange":3.95},{"green":2.86,"orange":3.30},{"green":2.88,"orange":3.70},{"green":2.90,"orange":4.05},{"green":2.93,"orange":3.20},{"green":2.95,"orange":3.55},{"green":2.98,"orange":3.85},{"green":3.00,"orange":4.15},
      {"green":3.03,"orange":3.40},{"green":3.05,"orange":3.00},{"green":3.07,"orange":3.70},{"green":3.10,"orange":4.00},{"green":3.12,"orange":3.25},{"green":3.15,"orange":4.25},{"green":3.17,"orange":3.55},{"green":3.20,"orange":3.85},{"green":3.22,"orange":2.95},{"green":3.25,"orange":4.10},
      {"green":3.28,"orange":3.35},{"green":3.30,"orange":3.65},{"green":3.32,"orange":4.35},{"green":3.35,"orange":3.95},{"green":3.38,"orange":3.15},{"green":3.40,"orange":4.20},{"green":3.43,"orange":3.50},{"green":3.45,"orange":3.80},{"green":3.48,"orange":4.40},{"green":3.50,"orange":3.30},
      {"green":3.53,"orange":4.05},{"green":3.55,"orange":3.65},{"green":3.58,"orange":4.30},{"green":3.60,"orange":3.40},{"green":3.63,"orange":3.90},{"green":3.65,"orange":4.45},{"green":3.68,"orange":3.55},{"green":3.70,"orange":4.15},{"green":3.73,"orange":3.75},{"green":3.75,"orange":4.35},
      {"green":3.78,"orange":3.45},{"green":3.80,"orange":4.00},{"green":3.83,"orange":4.45},{"green":3.85,"orange":3.65},{"green":3.88,"orange":4.20},{"green":3.90,"orange":3.85},{"green":3.93,"orange":4.40},{"green":3.95,"orange":3.60},{"green":3.98,"orange":4.05},{"green":4.00,"orange":4.30},
      {"green":4.03,"orange":3.80},{"green":4.06,"orange":4.45},{"green":4.08,"orange":3.95},{"green":4.10,"orange":4.20},{"green":4.13,"orange":3.85},{"green":4.16,"orange":4.35},{"green":4.18,"orange":4.05},{"green":4.22,"orange":4.45},{"green":4.25,"orange":4.15},{"green":4.30,"orange":4.30},
      {"green":4.35,"orange":4.40},{"green":4.40,"orange":4.48},{"green":4.45,"orange":4.35},
      {"green":2.43,"orange":3.22},{"green":2.47,"orange":3.48},{"green":2.52,"orange":3.31},{"green":2.57,"orange":3.67},{"green":2.61,"orange":3.14},{"green":2.64,"orange":3.52},{"green":2.67,"orange":3.83},{"green":2.71,"orange":3.38},{"green":2.74,"orange":3.66},{"green":2.77,"orange":3.97},
      {"green":2.81,"orange":3.28},{"green":2.84,"orange":3.61},{"green":2.87,"orange":4.11},{"green":2.89,"orange":3.41},{"green":2.92,"orange":3.78},{"green":2.96,"orange":4.21},{"green":2.99,"orange":3.33},{"green":3.02,"orange":3.63},{"green":3.04,"orange":3.94},{"green":3.08,"orange":4.31},
      {"green":3.11,"orange":3.48},{"green":3.14,"orange":3.79},{"green":3.16,"orange":4.12},{"green":3.19,"orange":3.37},{"green":3.21,"orange":3.68},{"green":3.24,"orange":3.97},{"green":3.27,"orange":4.27},{"green":3.29,"orange":3.51},{"green":3.33,"orange":3.83},{"green":3.36,"orange":4.08},
      {"green":3.39,"orange":3.36},{"green":3.42,"orange":3.71},{"green":3.44,"orange":4.29},{"green":3.47,"orange":3.97},{"green":3.51,"orange":3.56},{"green":3.54,"orange":4.18},{"green":3.57,"orange":3.84},{"green":3.59,"orange":4.41},{"green":3.62,"orange":3.62},{"green":3.66,"orange":4.03},
      {"green":3.69,"orange":3.46},{"green":3.71,"orange":4.27},{"green":3.74,"orange":3.91},{"green":3.77,"orange":4.49},{"green":3.79,"orange":3.58},{"green":3.82,"orange":4.12},{"green":3.84,"orange":3.79},{"green":3.87,"orange":4.37},{"green":3.91,"orange":3.97},{"green":3.94,"orange":4.22},
      {"green":3.96,"orange":3.72},{"green":3.99,"orange":4.46},{"green":4.02,"orange":3.94},{"green":4.04,"orange":4.14},{"green":4.07,"orange":3.86},{"green":4.11,"orange":4.33},{"green":4.14,"orange":4.01},{"green":4.17,"orange":4.48},{"green":4.21,"orange":4.08},{"green":4.24,"orange":4.29},
      {"green":4.27,"orange":4.04},{"green":4.31,"orange":4.42},{"green":4.34,"orange":4.19},{"green":4.38,"orange":4.31},{"green":4.42,"orange":4.26},{"green":4.46,"orange":4.44},{"green":4.28,"orange":4.53},{"green":3.95,"orange":4.52},{"green":3.52,"orange":4.47},{"green":3.18,"orange":4.40},
      {"green":2.46,"orange":3.61},{"green":2.51,"orange":3.44},{"green":2.54,"orange":3.78},{"green":2.59,"orange":3.29},{"green":2.63,"orange":3.63},{"green":2.66,"orange":3.91},{"green":2.69,"orange":3.47},{"green":2.73,"orange":3.76},{"green":2.76,"orange":3.33},{"green":2.79,"orange":3.63},
      {"green":2.82,"orange":3.88},{"green":2.85,"orange":3.51},{"green":2.91,"orange":3.62},{"green":2.94,"orange":3.94},{"green":2.97,"orange":3.47},{"green":3.01,"orange":3.77},{"green":3.06,"orange":4.09},{"green":3.09,"orange":3.59},{"green":3.13,"orange":3.91},{"green":3.18,"orange":4.19},
      {"green":3.23,"orange":3.47},{"green":3.26,"orange":3.79},{"green":3.31,"orange":4.13},{"green":3.34,"orange":3.61},{"green":3.37,"orange":3.89},{"green":3.41,"orange":4.33},{"green":3.46,"orange":3.66},{"green":3.49,"orange":3.91},{"green":3.53,"orange":4.26},{"green":3.56,"orange":3.47},
      {"green":3.61,"orange":3.76},{"green":3.64,"orange":4.21},{"green":3.67,"orange":3.91},{"green":3.72,"orange":3.66},{"green":3.76,"orange":4.07},{"green":3.81,"orange":3.86},{"green":3.86,"orange":4.29},{"green":3.89,"orange":3.68},{"green":3.92,"orange":4.09},{"green":3.97,"orange":3.86},
      {"green":4.01,"orange":4.21},{"green":4.05,"orange":4.38},{"green":4.09,"orange":4.07},{"green":4.15,"orange":4.19},{"green":4.19,"orange":3.94},{"green":4.23,"orange":4.36},{"green":4.29,"orange":4.13},{"green":4.33,"orange":4.28},{"green":4.41,"orange":4.37},{"green":4.37,"orange":4.08},
      {"green":2.95,"orange":2.45},{"green":3.00,"orange":2.60},{"green":3.05,"orange":2.40},{"green":3.10,"orange":2.75},{"green":3.15,"orange":2.55},{"green":3.20,"orange":2.85},{"green":3.25,"orange":2.65},{"green":3.30,"orange":2.90},{"green":3.35,"orange":2.75},{"green":3.40,"orange":3.00},
      {"green":3.45,"orange":2.90},{"green":3.50,"orange":3.10},{"green":3.55,"orange":3.05},{"green":3.60,"orange":3.20},{"green":3.65,"orange":3.15},{"green":3.70,"orange":3.30},{"green":3.75,"orange":3.25},{"green":3.80,"orange":3.45},{"green":3.85,"orange":3.40},{"green":3.90,"orange":3.55},
      {"green":3.95,"orange":3.50},{"green":4.00,"orange":3.65},{"green":4.05,"orange":3.66},{"green":4.10,"orange":3.75},
      {"green":2.97,"orange":2.36},{"green":3.01,"orange":2.52},{"green":3.04,"orange":2.67},{"green":3.09,"orange":2.49},{"green":3.12,"orange":2.63},{"green":3.14,"orange":2.82},{"green":3.18,"orange":2.69},{"green":3.21,"orange":2.77},{"green":3.24,"orange":2.91},{"green":3.27,"orange":2.72},
      {"green":3.31,"orange":2.84},{"green":3.34,"orange":2.97},{"green":3.37,"orange":2.83},{"green":3.41,"orange":2.93},{"green":3.44,"orange":3.08},{"green":3.47,"orange":2.97},{"green":3.52,"orange":3.02},{"green":3.56,"orange":3.16},{"green":3.61,"orange":3.13},{"green":3.64,"orange":3.27},
      {"green":4.80,"orange":4.61},{"green":4.33,"orange":4.65},{"green":2.07,"orange":3.42},{"green":1.33,"orange":2.63},{"green":2.53,"orange":3.94},{"green":2.85,"orange":4.35},{"green":4.55,"orange":4.50},
      {"green":1.95,"orange":2.20},{"green":2.00,"orange":2.45},{"green":2.02,"orange":1.95},{"green":2.05,"orange":2.70},{"green":2.08,"orange":2.30},{"green":2.10,"orange":1.80},{"green":2.12,"orange":2.90},{"green":2.15,"orange":2.55},{"green":2.18,"orange":3.05},{"green":2.20,"orange":1.90},
      {"green":2.22,"orange":2.75},{"green":2.25,"orange":3.20},{"green":2.28,"orange":1.95},{"green":2.30,"orange":3.00},{"green":2.33,"orange":3.35},{"green":2.36,"orange":2.95},{"green":2.05,"orange":2.10},{"green":1.98,"orange":2.60},{"green":2.35,"orange":1.98},{"green":2.42,"orange":2.02},
      {"green":2.50,"orange":2.05},{"green":2.58,"orange":2.10},{"green":2.68,"orange":2.15},{"green":2.75,"orange":2.18},{"green":2.58,"orange":2.00},{"green":2.65,"orange":2.06},
      {"green":2.03,"orange":2.31},{"green":2.06,"orange":2.58},{"green":2.09,"orange":2.02},{"green":2.11,"orange":2.44},{"green":2.13,"orange":2.77},{"green":2.16,"orange":2.21},{"green":2.19,"orange":2.66},{"green":2.21,"orange":3.01},{"green":2.24,"orange":2.09},{"green":2.26,"orange":2.91},
      {"green":2.29,"orange":3.14},{"green":2.31,"orange":2.06},{"green":2.34,"orange":3.08},{"green":2.37,"orange":3.27},{"green":2.39,"orange":2.98},{"green":2.41,"orange":3.18},{"green":2.23,"orange":1.83},{"green":2.33,"orange":1.87},{"green":2.44,"orange":1.91},{"green":2.52,"orange":1.96},
      {"green":2.16,"orange":1.93},{"green":2.27,"orange":1.76},{"green":2.12,"orange":1.97},{"green":2.47,"orange":3.04},{"green":2.56,"orange":3.12},
      {"green":0.97,"orange":1.14},{"green":1.10,"orange":1.10},{"green":1.27,"orange":1.03},{"green":1.53,"orange":1.93},{"green":1.67,"orange":1.96},{"green":1.47,"orange":1.70},{"green":1.77,"orange":1.74},{"green":1.87,"orange":1.63},{"green":1.93,"orange":1.33},{"green":1.67,"orange":1.33},
      {"green":1.05,"orange":1.25},{"green":1.20,"orange":1.35},{"green":1.40,"orange":1.55},{"green":1.60,"orange":1.50},{"green":1.80,"orange":1.90},{"green":1.85,"orange":2.05},{"green":1.90,"orange":1.80},{"green":0.94,"orange":1.20},{"green":1.15,"orange":1.00},{"green":1.35,"orange":1.15},
      {"green":1.02,"orange":1.08},{"green":1.23,"orange":1.17},{"green":1.41,"orange":1.31},{"green":1.58,"orange":1.71},{"green":1.72,"orange":1.55},{"green":1.83,"orange":2.21},{"green":1.91,"orange":2.01},{"green":1.96,"orange":1.71},{"green":1.62,"orange":1.84},{"green":1.45,"orange":1.12}
    ],
    "E_core": [
      {"green":2.35,"orange":2.03},{"green":2.35,"orange":2.23},
      {"green":2.45,"orange":2.08},{"green":2.45,"orange":2.23},{"green":2.45,"orange":2.38},{"green":2.45,"orange":2.53},
      {"green":2.55,"orange":2.18},{"green":2.55,"orange":2.33},{"green":2.55,"orange":2.48},{"green":2.55,"orange":2.63},
      {"green":2.65,"orange":2.28},{"green":2.65,"orange":2.43},{"green":2.65,"orange":2.58},{"green":2.65,"orange":2.73},
      {"green":2.75,"orange":2.38},{"green":2.75,"orange":2.53},{"green":2.75,"orange":2.68},{"green":2.75,"orange":2.83},
      {"green":2.85,"orange":2.48},{"green":2.85,"orange":2.63},{"green":2.85,"orange":2.78},{"green":2.85,"orange":2.93},
      {"green":2.95,"orange":2.58},{"green":2.95,"orange":2.73},{"green":2.95,"orange":2.88},{"green":2.95,"orange":3.01},
      {"green":3.05,"orange":2.68},{"green":3.05,"orange":2.81},{"green":3.05,"orange":2.95},{"green":3.05,"orange":3.08},
      {"green":3.15,"orange":2.78},{"green":3.15,"orange":2.91},{"green":3.15,"orange":3.05},
      {"green":3.25,"orange":2.88},{"green":3.25,"orange":3.01},{"green":3.25,"orange":3.13},
      {"green":3.35,"orange":2.98},{"green":3.35,"orange":3.09},{"green":3.35,"orange":3.21},
      {"green":3.45,"orange":3.08},{"green":3.45,"orange":3.19},{"green":3.45,"orange":3.29},
      {"green":3.55,"orange":3.18},{"green":3.55,"orange":3.28},{"green":3.55,"orange":3.38},
      {"green":3.65,"orange":3.28},{"green":3.65,"orange":3.38},
      {"green":3.75,"orange":3.38},{"green":3.75,"orange":3.47},
      {"green":3.85,"orange":3.48},{"green":3.85,"orange":3.56},
      {"green":3.95,"orange":3.58},{"green":3.95,"orange":3.65},
      {"green":4.05,"orange":3.68},{"green":4.15,"orange":3.78},{"green":4.25,"orange":3.87}
    ],
    "E_dots": [
      {"green":1.55,"orange":1.85},{"green":1.60,"orange":2.20},{"green":1.65,"orange":1.60},{"green":1.70,"orange":2.45},{"green":1.72,"orange":1.95},{"green":1.75,"orange":2.70},{"green":1.78,"orange":2.25},{"green":1.80,"orange":1.70},{"green":1.83,"orange":2.55},{"green":1.85,"orange":2.05},
      {"green":1.88,"orange":2.85},{"green":1.90,"orange":2.35},{"green":1.92,"orange":1.85},{"green":1.95,"orange":2.65},{"green":1.98,"orange":2.15},{"green":2.00,"orange":3.00},{"green":2.02,"orange":2.45},{"green":2.05,"orange":1.95},{"green":2.07,"orange":2.80},{"green":2.10,"orange":2.30},
      {"green":2.12,"orange":2.60},{"green":2.15,"orange":2.05},{"green":2.17,"orange":2.90},{"green":2.20,"orange":2.45},{"green":2.22,"orange":2.70},{"green":2.25,"orange":2.20},{"green":2.27,"orange":3.05},{"green":2.30,"orange":2.55},{"green":2.32,"orange":2.80},{"green":2.35,"orange":2.40},
      {"green":2.38,"orange":2.95},{"green":2.40,"orange":2.65},{"green":2.42,"orange":1.95},{"green":2.30,"orange":1.90},{"green":2.18,"orange":1.80},{"green":2.05,"orange":1.70},
      {"green":1.58,"orange":2.03},{"green":1.63,"orange":2.39},{"green":1.67,"orange":1.77},{"green":1.69,"orange":2.61},{"green":1.74,"orange":2.14},{"green":1.77,"orange":2.46},{"green":1.79,"orange":1.88},{"green":1.82,"orange":2.76},{"green":1.84,"orange":2.29},{"green":1.87,"orange":1.96},
      {"green":1.89,"orange":2.58},{"green":1.91,"orange":2.19},{"green":1.94,"orange":2.82},{"green":1.96,"orange":2.41},{"green":1.99,"orange":1.91},{"green":2.01,"orange":2.67},{"green":2.04,"orange":2.21},{"green":2.06,"orange":2.52},{"green":2.09,"orange":1.89},{"green":2.11,"orange":2.79},
      {"green":2.14,"orange":2.39},{"green":2.16,"orange":2.66},{"green":2.19,"orange":2.11},{"green":2.21,"orange":2.91},{"green":2.24,"orange":2.36},{"green":2.26,"orange":2.62},{"green":2.29,"orange":2.09},{"green":2.31,"orange":2.93},{"green":2.34,"orange":2.58},{"green":2.37,"orange":2.24},
      {"green":2.39,"orange":2.86},{"green":2.41,"orange":2.47},{"green":2.44,"orange":2.73},{"green":2.47,"orange":2.95},{"green":2.49,"orange":2.71},
      {"green":1.62,"orange":1.93},{"green":1.68,"orange":2.29},{"green":1.73,"orange":2.57},{"green":1.77,"orange":2.04},{"green":1.81,"orange":2.38},{"green":1.86,"orange":2.67},{"green":1.89,"orange":2.12},{"green":1.93,"orange":2.49},{"green":1.97,"orange":2.76},{"green":2.02,"orange":2.33},
      {"green":2.06,"orange":2.08},{"green":2.09,"orange":2.62},{"green":2.13,"orange":2.87},{"green":2.17,"orange":2.26},{"green":2.21,"orange":2.54},{"green":2.26,"orange":2.79},{"green":2.29,"orange":2.33},{"green":2.33,"orange":2.68},{"green":2.36,"orange":2.14},{"green":2.43,"orange":2.61},
      {"green":2.53,"orange":2.96},{"green":2.57,"orange":3.11},{"green":2.62,"orange":2.86},{"green":2.67,"orange":3.14},{"green":2.72,"orange":2.97},{"green":2.77,"orange":3.21},{"green":2.82,"orange":3.03},{"green":2.87,"orange":3.27},{"green":2.92,"orange":3.12},{"green":2.97,"orange":3.36},
      {"green":3.02,"orange":3.17},{"green":3.07,"orange":3.43},{"green":3.12,"orange":3.26},{"green":3.17,"orange":3.51},{"green":3.22,"orange":3.36},{"green":3.27,"orange":3.62},{"green":3.32,"orange":3.42},{"green":3.37,"orange":3.67},{"green":3.42,"orange":3.52},{"green":3.47,"orange":3.81},
      {"green":3.52,"orange":3.61},{"green":3.57,"orange":3.73},{"green":3.62,"orange":3.67},{"green":3.67,"orange":3.83},{"green":3.72,"orange":3.61},{"green":3.77,"orange":3.77},{"green":3.83,"orange":3.71},{"green":3.88,"orange":3.86},{"green":3.93,"orange":3.72},{"green":3.99,"orange":3.93},
      {"green":3.05,"orange":3.30},{"green":3.08,"orange":3.55},{"green":3.12,"orange":3.85},{"green":3.15,"orange":3.40},{"green":3.18,"orange":3.70},{"green":3.20,"orange":4.00},{"green":3.23,"orange":3.50},{"green":3.26,"orange":3.80},{"green":3.28,"orange":3.30},{"green":3.30,"orange":4.10},
      {"green":3.33,"orange":3.60},{"green":3.36,"orange":3.90},{"green":3.38,"orange":3.45},{"green":3.40,"orange":4.20},{"green":3.43,"orange":3.70},{"green":3.46,"orange":3.95},{"green":3.48,"orange":3.50},{"green":3.50,"orange":4.05},{"green":3.53,"orange":3.75},{"green":3.56,"orange":3.55},
      {"green":3.58,"orange":4.15},{"green":3.60,"orange":3.85},{"green":3.63,"orange":3.60},{"green":3.66,"orange":3.95},{"green":3.68,"orange":3.70},{"green":3.72,"orange":4.05},{"green":3.75,"orange":3.80},{"green":3.78,"orange":3.65},{"green":3.82,"orange":3.95},{"green":3.86,"orange":3.75},
      {"green":3.90,"orange":4.10},{"green":3.95,"orange":3.85},{"green":2.90,"orange":3.20},{"green":2.95,"orange":3.45},{"green":2.85,"orange":3.10},{"green":3.00,"orange":3.75},{"green":2.80,"orange":3.35},{"green":3.10,"orange":4.15},
      {"green":3.11,"orange":3.62},{"green":3.14,"orange":3.96},{"green":3.21,"orange":3.81},{"green":3.24,"orange":4.06},{"green":3.29,"orange":3.71},{"green":3.34,"orange":4.01},{"green":3.39,"orange":3.81},{"green":3.41,"orange":4.13},{"green":3.44,"orange":3.61},{"green":3.49,"orange":3.89},
      {"green":3.52,"orange":4.11},{"green":3.57,"orange":3.94},{"green":3.61,"orange":4.02},{"green":3.64,"orange":3.77},{"green":3.69,"orange":3.92},{"green":3.71,"orange":4.18},{"green":3.79,"orange":3.89},{"green":3.84,"orange":4.06},{"green":3.27,"orange":4.15},{"green":3.17,"orange":4.06},
      {"green":3.09,"orange":3.71},{"green":3.19,"orange":3.92},{"green":3.31,"orange":3.86},{"green":3.37,"orange":3.53},{"green":3.47,"orange":4.09},{"green":3.54,"orange":3.83},{"green":3.62,"orange":3.93},{"green":3.74,"orange":3.93},{"green":3.87,"orange":4.01},{"green":3.46,"orange":3.63},
      {"green":2.60,"orange":2.90},{"green":2.70,"orange":3.00},{"green":2.50,"orange":2.80},{"green":2.40,"orange":2.75},{"green":3.20,"orange":3.25},{"green":3.40,"orange":3.45},{"green":3.60,"orange":3.50},{"green":3.80,"orange":3.65},{"green":4.00,"orange":3.80},{"green":4.10,"orange":3.75},
      {"green":4.20,"orange":3.95},{"green":4.30,"orange":3.98},{"green":4.40,"orange":4.05},{"green":4.45,"orange":4.00},{"green":4.50,"orange":4.15},{"green":4.35,"orange":3.92},{"green":4.25,"orange":3.85},{"green":4.15,"orange":3.70},{"green":4.05,"orange":3.62},
      {"green":4.32,"orange":3.94},{"green":4.38,"orange":4.02},{"green":4.43,"orange":4.11},{"green":4.48,"orange":4.07},{"green":4.53,"orange":4.18},{"green":4.21,"orange":3.92},{"green":4.12,"orange":3.86},{"green":4.02,"orange":3.74},{"green":3.92,"orange":3.64},{"green":3.82,"orange":3.57},
      {"green":0.86,"orange":1.51},{"green":1.00,"orange":1.36},{"green":1.27,"orange":1.70},{"green":1.20,"orange":1.44},{"green":1.54,"orange":1.17},{"green":1.81,"orange":1.13},{"green":2.01,"orange":1.17},{"green":1.00,"orange":0.99},{"green":0.93,"orange":1.14},{"green":1.40,"orange":1.55},
      {"green":1.65,"orange":1.40},{"green":1.75,"orange":1.55},{"green":1.90,"orange":1.50},{"green":2.10,"orange":1.60},{"green":2.20,"orange":1.65},{"green":1.45,"orange":1.90},{"green":1.30,"orange":2.00},{"green":1.10,"orange":1.20},
      {"green":1.12,"orange":1.58},{"green":1.33,"orange":1.81},{"green":1.51,"orange":1.62},{"green":1.71,"orange":1.32},{"green":1.95,"orange":1.33},{"green":2.14,"orange":1.47},{"green":1.36,"orange":1.29},{"green":1.58,"orange":1.49},
      {"green":2.08,"orange":3.35},{"green":1.95,"orange":3.09},{"green":3.85,"orange":4.48},{"green":4.66,"orange":4.49},{"green":4.36,"orange":4.21},{"green":4.59,"orange":4.25},{"green":2.15,"orange":3.20}
    ]
  },
  "concat": [
    {
      "concat": [
        {
          "concat": [
            {
              "width": 222, "height": 195,
              "title": {"text": "A", "dx": -29, "offset": -9},
              "encoding": {
                "x": {"field": "green", "type": "quantitative", "scale": {"domain": [1.04, 5.43], "nice": false, "zero": false},
                  "axis": {"title": "JC-1 Green-A", "values": [1.136,1.244,1.352,1.46,1.568,1.676,1.784,1.892,2,2.301,2.477,2.602,2.699,2.778,2.845,2.903,2.954,3,3.301,3.477,3.602,3.699,3.778,3.845,3.903,3.954,4,4.301,4.477,4.602,4.699,4.778,4.845,4.903,4.954,5,5.301],
                    "labelExpr": "datum.value == 1.46 ? '0' : datum.value == 2 ? '10²' : datum.value == 3 ? '10³' : datum.value == 4 ? '10⁴' : datum.value == 5 ? '10⁵' : ''",
                    "tickSize": {"condition": {"test": "datum.value == floor(datum.value) || datum.value == 1.46", "value": 3}, "value": 2}}},
                "y": {"field": "orange", "type": "quantitative", "scale": {"domain": [1.065, 5.28], "nice": false, "zero": false},
                  "axis": {"title": "JC-1 Orange-A", "values": [1.174,1.292,1.41,1.528,1.646,1.764,1.882,2,2.301,2.477,2.602,2.699,2.778,2.845,2.903,2.954,3,3.301,3.477,3.602,3.699,3.778,3.845,3.903,3.954,4,4.301,4.477,4.602,4.699,4.778,4.845,4.903,4.954,5],
                    "labelExpr": "datum.value == 1.41 ? '0' : datum.value == 2 ? '10²' : datum.value == 3 ? '10³' : datum.value == 4 ? '10⁴' : datum.value == 5 ? '10⁵' : ''",
                    "tickSize": {"condition": {"test": "datum.value == floor(datum.value) || datum.value == 1.41", "value": 3}, "value": 2}}}
              },
              "layer": [
                {"data": {"name": "A_core"}, "mark": {"type": "circle", "size": 40, "color": "#fb5b40", "opacity": 1}, "encoding": {}},
                {"data": {"name": "A_dots"}, "mark": {"type": "square", "size": 6, "color": "#fb5b40", "opacity": 0.85}, "encoding": {}}
              ]
            },
            {
              "width": 222, "height": 195,
              "title": {"text": "B", "dx": -52, "offset": -22},
              "encoding": {
                "x": {"field": "green", "type": "quantitative", "scale": {"domain": [0.91, 5.41], "nice": false, "zero": false},
                  "axis": {"title": "JC-1 Green-A", "values": [0.992,1.16,1.328,1.496,1.664,1.832,2,2.301,2.477,2.602,2.699,2.778,2.845,2.903,2.954,3,3.301,3.477,3.602,3.699,3.778,3.845,3.903,3.954,4,4.301,4.477,4.602,4.699,4.778,4.845,4.903,4.954,5,5.301],
                    "labelExpr": "datum.value == 1.16 ? '0' : datum.value == 2 ? '10²' : datum.value == 3 ? '10³' : datum.value == 4 ? '10⁴' : datum.value == 5 ? '10⁵' : ''",
                    "tickSize": {"condition": {"test": "datum.value == floor(datum.value) || datum.value == 1.16", "value": 3}, "value": 2}}},
                "y": {"field": "orange", "type": "quantitative", "scale": {"domain": [0.95, 5.33], "nice": false, "zero": false},
                  "axis": {"title": "JC-1 Orange-A", "values": [1.076,1.23,1.384,1.538,1.692,1.846,2,2.301,2.477,2.602,2.699,2.778,2.845,2.903,2.954,3,3.301,3.477,3.602,3.699,3.778,3.845,3.903,3.954,4,4.301,4.477,4.602,4.699,4.778,4.845,4.903,4.954,5,5.301],
                    "labelExpr": "datum.value == 1.23 ? '0' : datum.value == 2 ? '10²' : datum.value == 3 ? '10³' : datum.value == 4 ? '10⁴' : datum.value == 5 ? '10⁵' : ''",
                    "tickSize": {"condition": {"test": "datum.value == floor(datum.value) || datum.value == 1.23", "value": 3}, "value": 2}}}
              },
              "layer": [
                {"data": {"name": "B_core"}, "mark": {"type": "circle", "size": 40, "color": "#fb5b40", "opacity": 1}, "encoding": {}},
                {"data": {"name": "B_band"}, "mark": {"type": "circle", "size": 10, "color": "#fb5b40", "opacity": 1}, "encoding": {}},
                {"data": {"name": "B_dots"}, "mark": {"type": "square", "size": 6, "color": "#fb5b40", "opacity": 0.85}, "encoding": {}}
              ]
            }
          ],
          "columns": 2, "align": "none", "spacing": 95
        },
        {
          "width": 222, "height": 195,
          "title": {"text": "C", "dx": -40, "offset": -25},
          "encoding": {
            "x": {"field": "green", "type": "quantitative", "scale": {"domain": [0.93, 5.39], "nice": false, "zero": false},
              "axis": {"title": "JC-1 Green-A", "values": [1.052,1.21,1.368,1.526,1.684,1.842,2,2.301,2.477,2.602,2.699,2.778,2.845,2.903,2.954,3,3.301,3.477,3.602,3.699,3.778,3.845,3.903,3.954,4,4.301,4.477,4.602,4.699,4.778,4.845,4.903,4.954,5,5.301],
                "labelExpr": "datum.value == 1.21 ? '0' : datum.value == 2 ? '10²' : datum.value == 3 ? '10³' : datum.value == 4 ? '10⁴' : datum.value == 5 ? '10⁵' : ''",
                "tickSize": {"condition": {"test": "datum.value == floor(datum.value) || datum.value == 1.21", "value": 3}, "value": 2}}},
            "y": {"field": "orange", "type": "quantitative", "scale": {"domain": [0.99, 5.40], "nice": false, "zero": false},
              "axis": {"title": "JC-1 Orange-A", "values": [1.136,1.28,1.424,1.568,1.712,1.856,2,2.301,2.477,2.602,2.699,2.778,2.845,2.903,2.954,3,3.301,3.477,3.602,3.699,3.778,3.845,3.903,3.954,4,4.301,4.477,4.602,4.699,4.778,4.845,4.903,4.954,5,5.301],
                "labelExpr": "datum.value == 1.28 ? '0' : datum.value == 2 ? '10²' : datum.value == 3 ? '10³' : datum.value == 4 ? '10⁴' : datum.value == 5 ? '10⁵' : ''",
                "tickSize": {"condition": {"test": "datum.value == floor(datum.value) || datum.value == 1.28", "value": 3}, "value": 2}}}
          },
          "layer": [
            {"data": {"name": "C_core"}, "mark": {"type": "circle", "size": 30, "color": "#fb5b40", "opacity": 0.85}, "encoding": {}},
            {"data": {"name": "C_dots"}, "mark": {"type": "square", "size": 6, "color": "#fb5b40", "opacity": 0.85}, "encoding": {}}
          ]
        }
      ],
      "columns": 2, "align": "none", "spacing": 52
    },
    {
      "concat": [
        {
          "width": 222, "height": 195,
          "title": {"text": "D", "dx": -29, "offset": -9},
          "encoding": {
            "x": {"field": "green", "type": "quantitative", "scale": {"domain": [0.91, 5.33], "nice": false, "zero": false},
              "axis": {"title": "JC-1 Green-A", "values": [0.95,1.16,1.37,1.58,1.79,2,2.301,2.477,2.602,2.699,2.778,2.845,2.903,2.954,3,3.301,3.477,3.602,3.699,3.778,3.845,3.903,3.954,4,4.301,4.477,4.602,4.699,4.778,4.845,4.903,4.954,5,5.301],
                "labelExpr": "datum.value == 0.95 ? '0' : datum.value == 2 ? '10²' : datum.value == 3 ? '10³' : datum.value == 4 ? '10⁴' : datum.value == 5 ? '10⁵' : ''",
                "tickSize": {"condition": {"test": "datum.value == floor(datum.value) || datum.value == 0.95", "value": 3}, "value": 2}}},
            "y": {"field": "orange", "type": "quantitative", "scale": {"domain": [0.99, 5.33], "nice": false, "zero": false},
              "axis": {"title": "JC-1 Orange-A", "values": [1.064,1.22,1.376,1.532,1.688,1.844,2,2.301,2.477,2.602,2.699,2.778,2.845,2.903,2.954,3,3.301,3.477,3.602,3.699,3.778,3.845,3.903,3.954,4,4.301,4.477,4.602,4.699,4.778,4.845,4.903,4.954,5,5.301],
                "labelExpr": "datum.value == 1.22 ? '0' : datum.value == 2 ? '10²' : datum.value == 3 ? '10³' : datum.value == 4 ? '10⁴' : datum.value == 5 ? '10⁵' : ''",
                "tickSize": {"condition": {"test": "datum.value == floor(datum.value) || datum.value == 1.22", "value": 3}, "value": 2}}}
          },
          "layer": [
            {"data": {"name": "D_core"}, "mark": {"type": "circle", "size": 40, "color": "#fb5b40", "opacity": 0.9}, "encoding": {}},
            {"data": {"name": "D_band"}, "mark": {"type": "circle", "size": 10, "color": "#fb5b40", "opacity": 1}, "encoding": {}},
            {"data": {"name": "D_dots"}, "mark": {"type": "square", "size": 6, "color": "#fb5b40", "opacity": 0.85}, "encoding": {}}
          ]
        },
        {
          "width": 222, "height": 195,
          "title": {"text": "E", "dx": -28, "offset": -11},
          "encoding": {
            "x": {"field": "green", "type": "quantitative", "scale": {"domain": [0.86, 5.40], "nice": false, "zero": false},
              "axis": {"title": "JC-1 Green-A", "values": [1.03,1.224,1.418,1.612,1.806,2,2.301,2.477,2.602,2.699,2.778,2.845,2.903,2.954,3,3.301,3.477,3.602,3.699,3.778,3.845,3.903,3.954,4,4.301,4.477,4.602,4.699,4.778,4.845,4.903,4.954,5,5.301],
                "labelExpr": "datum.value == 1.03 ? '0' : datum.value == 2 ? '10²' : datum.value == 3 ? '10³' : datum.value == 4 ? '10⁴' : datum.value == 5 ? '10⁵' : ''",
                "tickSize": {"condition": {"test": "datum.value == floor(datum.value) || datum.value == 1.03", "value": 3}, "value": 2}}},
            "y": {"field": "orange", "type": "quantitative", "scale": {"domain": [0.95, 5.30], "nice": false, "zero": false},
              "axis": {"title": "JC-1 Orange-A", "values": [1.1,1.28,1.46,1.64,1.82,2,2.301,2.477,2.602,2.699,2.778,2.845,2.903,2.954,3,3.301,3.477,3.602,3.699,3.778,3.845,3.903,3.954,4,4.301,4.477,4.602,4.699,4.778,4.845,4.903,4.954,5],
                "labelExpr": "datum.value == 1.1 ? '0' : datum.value == 2 ? '10²' : datum.value == 3 ? '10³' : datum.value == 4 ? '10⁴' : datum.value == 5 ? '10⁵' : ''",
                "tickSize": {"condition": {"test": "datum.value == floor(datum.value) || datum.value == 1.1", "value": 3}, "value": 2}}}
          },
          "layer": [
            {"data": {"name": "E_core"}, "mark": {"type": "circle", "size": 60, "color": "#fb5b40", "opacity": 0.95}, "encoding": {}},
            {"data": {"name": "E_dots"}, "mark": {"type": "square", "size": 6, "color": "#fb5b40", "opacity": 0.85}, "encoding": {}}
          ]
        }
      ],
      "columns": 2, "align": "none", "spacing": 106
    }
  ],
  "columns": 1, "align": "none", "spacing": -12
}
